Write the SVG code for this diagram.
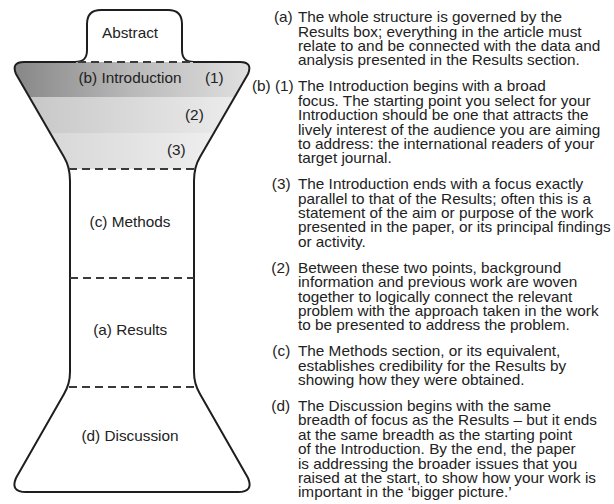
<svg xmlns="http://www.w3.org/2000/svg" width="614" height="504" viewBox="0 0 614 504">
<style>
.t{font-family:"Liberation Sans",Arial,sans-serif;font-size:14.2px;fill:#222}
.c{text-anchor:middle}
.ol{fill:none;stroke:#1e1e1e;stroke-width:2;stroke-linejoin:round}
.dash{fill:none;stroke:#3a3a3a;stroke-width:2;stroke-dasharray:8 5}
</style>
<defs>
<linearGradient id="g1" x1="0" y1="0" x2="1" y2="0"><stop offset="0" stop-color="#858585"/><stop offset="0.5" stop-color="#b9b9b9"/><stop offset="1" stop-color="#e2e2e2"/></linearGradient>
<linearGradient id="g2" x1="0" y1="0" x2="1" y2="0"><stop offset="0" stop-color="#c4c4c4"/><stop offset="1" stop-color="#efefef"/></linearGradient>
<linearGradient id="g3" x1="0" y1="0" x2="1" y2="0"><stop offset="0" stop-color="#d2d2d2"/><stop offset="1" stop-color="#f4f4f4"/></linearGradient>
<clipPath id="introClip"><path d="M24 62 L240 62 Q253 62 248 74 L200 157 Q196 163 195 169 L69 169 Q68 163 64 157 L16 74 Q11 62 24 62 Z"/></clipPath>
</defs>
<rect width="614" height="504" fill="#fff"/>

<g id="abstract">
<path d="M75 62 C84 62 87 58 87 50 L87 24 Q87 10 101 10 L168 10 Q182 10 182 24 L182 50 C182 58 185 62 194 62 Z" fill="#fff"/>
<path class="ol" d="M75 62 C84 62 87 58 87 50 L87 24 Q87 10 101 10 L168 10 Q182 10 182 24 L182 50 C182 58 185 62 194 62"/>
<text class="t c" x="120.4" y="38" transform="scale(1.08 1)">Abstract</text>
</g>

<g id="introduction">
<g clip-path="url(#introClip)">
<rect x="10" y="61" width="245" height="36" fill="url(#g1)"/>
<rect x="10" y="97" width="245" height="36" fill="url(#g2)"/>
<rect x="10" y="133" width="245" height="37" fill="url(#g3)"/>
</g>
<text class="t c" x="120.4" y="83" transform="scale(1.08 1)">(b) Introduction</text>
<text class="t" x="189.8" y="83" transform="scale(1.08 1)">(1)</text>
<text class="t" x="171.3" y="120" transform="scale(1.08 1)">(2)</text>
<text class="t" x="154.6" y="155" transform="scale(1.08 1)">(3)</text>
</g>

<g id="methods">
<text class="t c" x="120.4" y="227" transform="scale(1.08 1)">(c) Methods</text>
</g>

<g id="results">
<text class="t c" x="120.6" y="335" transform="scale(1.08 1)">(a) Results</text>
</g>

<g id="discussion">
<text class="t c" x="120.4" y="441" transform="scale(1.08 1)">(d) Discussion</text>
</g>

<g id="outline">
<path class="ol" d="M76 62 L24 62 Q11 62 16 74 L64 157 Q70 167 70 181 L70 372 Q70 384 64 394 L16 478 Q10 492 26 492 L238 492 Q254 492 248 478 L200 394 Q194 384 194 372 L194 181 Q194 167 200 157 L248 74 Q253 62 240 62 L193 62"/>
</g>

<g id="connectors">
<line class="dash" x1="78" y1="62" x2="192" y2="62"/>
<line class="dash" x1="69" y1="169" x2="195" y2="169"/>
<line class="dash" x1="70" y1="278" x2="194" y2="278"/>
<line class="dash" x1="69" y1="387" x2="195" y2="387"/>
</g>

<g id="notes" transform="scale(1.08 1)">
<text class="t" x="253.7" y="22.3">(a)</text>
<text class="t" y="22.3"><tspan x="275.9">The whole structure is governed by the</tspan><tspan x="275.9" dy="14.4">Results box; everything in the article must</tspan><tspan x="275.9" dy="14.4">relate to and be connected with the data and</tspan><tspan x="275.9" dy="14.4">analysis presented in the Results section.</tspan></text>
<text class="t" x="233.3" y="91.4">(b) (1)</text>
<text class="t" y="91.4"><tspan x="275.9">The Introduction begins with a broad</tspan><tspan x="275.9" dy="14.4">focus. The starting point you select for your</tspan><tspan x="275.9" dy="14.4">Introduction should be one that attracts the</tspan><tspan x="275.9" dy="14.4">lively interest of the audience you are aiming</tspan><tspan x="275.9" dy="14.4">to address: the international readers of your</tspan><tspan x="275.9" dy="14.4">target journal.</tspan></text>
<text class="t" x="251.7" y="189.3">(3)</text>
<text class="t" y="189.3"><tspan x="275.9">The Introduction ends with a focus exactly</tspan><tspan x="275.9" dy="14.4">parallel to that of the Results; often this is a</tspan><tspan x="275.9" dy="14.4">statement of the aim or purpose of the work</tspan><tspan x="275.9" dy="14.4">presented in the paper, or its principal findings</tspan><tspan x="275.9" dy="14.4">or activity.</tspan></text>
<text class="t" x="251.2" y="272.8">(2)</text>
<text class="t" y="272.8"><tspan x="275.9">Between these two points, background</tspan><tspan x="275.9" dy="14.4">information and previous work are woven</tspan><tspan x="275.9" dy="14.4">together to logically connect the relevant</tspan><tspan x="275.9" dy="14.4">problem with the approach taken in the work</tspan><tspan x="275.9" dy="14.4">to be presented to address the problem.</tspan></text>
<text class="t" x="252.2" y="356.3">(c)</text>
<text class="t" y="356.3"><tspan x="275.9">The Methods section, or its equivalent,</tspan><tspan x="275.9" dy="14.4">establishes credibility for the Results by</tspan><tspan x="275.9" dy="14.4">showing how they were obtained.</tspan></text>
<text class="t" x="251.2" y="411">(d)</text>
<text class="t" y="411"><tspan x="275.9">The Discussion begins with the same</tspan><tspan x="275.9" dy="14.4">breadth of focus as the Results – but it ends</tspan><tspan x="275.9" dy="14.4">at the same breadth as the starting point</tspan><tspan x="275.9" dy="14.4">of the Introduction. By the end, the paper</tspan><tspan x="275.9" dy="14.4">is addressing the broader issues that you</tspan><tspan x="275.9" dy="14.4">raised at the start, to show how your work is</tspan><tspan x="275.9" dy="14.4">important in the ‘bigger picture.’</tspan></text>
</g>
</svg>
